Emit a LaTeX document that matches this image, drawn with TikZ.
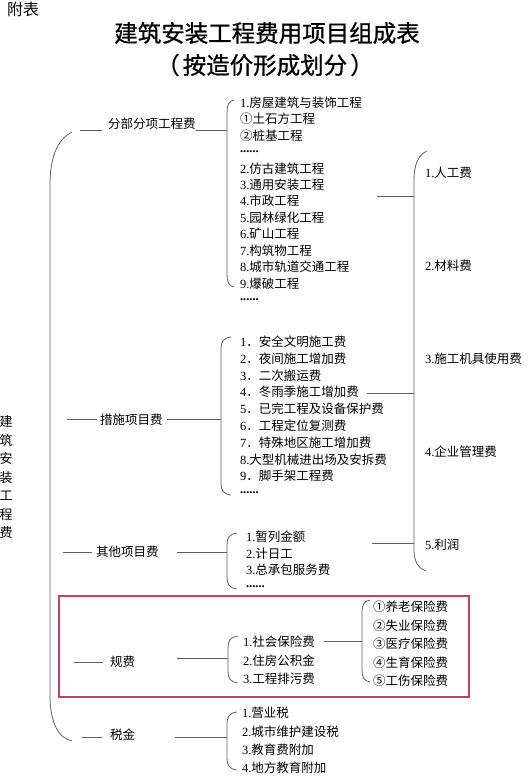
\documentclass[tikz,border=0pt]{standalone}
\usepackage{fontspec}
\setmainfont{Noto Sans CJK SC}
\newfontfamily\titlefont[FakeBold=0.8]{Noto Sans CJK SC}
\newfontfamily\dg{Liberation Serif}
\newcommand\dnum[1]{{\dg #1}}
\newcommand\sixdots{{\dg\bfseries ......}}
\definecolor{redbox}{RGB}{200,62,92}
\definecolor{linegray}{RGB}{95,95,95}
\newcommand\mybrace[5]{% name, x, top, bottom, curl
  \coordinate (#1) at (#2,#3/2+#4/2);
  \draw[br] (#2+#5,#3) .. controls (#2+2,#3+1) and (#2,#3+5) .. (#2,#3+12) -- (#2,#4-12) .. controls (#2,#4-5) and (#2+2,#4-1) .. (#2+#5,#4);}
\tikzset{
  every node/.style={inner sep=0pt, outer sep=0pt},
  item/.style={anchor=west, font=\fontsize{12.5}{14}\selectfont},
  cat/.style={anchor=west, font=\fontsize{12.5}{14}\selectfont},
  ln/.style={draw=linegray, line width=0.8pt},
  br/.style={draw=linegray, line width=0.8pt},
}
\begin{document}
\begin{tikzpicture}[x=1pt,y=-1pt]
\useasboundingbox (0,0) rectangle (530,780);
% headings
\node[anchor=west, font=\fontsize{16}{18}\selectfont] (fubiao) at (7,9) {附表};
\node[font=\titlefont\fontsize{23.5}{26}\selectfont] (title) at (267,33) {建筑安装工程费用项目组成表};
\node[font=\titlefont\fontsize{23.5}{26}\selectfont] (subtitle) at (265,65) {（\hspace{3pt}按造价形成划分\hspace{3pt}）};
% vertical label
\foreach \c [count=\i from 0] in {建,筑,安,装,工,程,费}
  \node[font=\fontsize{13}{14}\selectfont] (v\i) at (6,422+18.5*\i) {\c};
% main brace
\draw[br] (72,132) .. controls (56,140) and (50,160) .. (50,185) -- (50,695) .. controls (50,722) and (58,738) .. (72,741);
% categories
\node[cat] (c1) at (108,124) {分部分项工程费};
\node[cat] (c2) at (100,420) {措施项目费};
\node[cat] (c3) at (96,552) {其他项目费};
\node[cat] (c4) at (110,662) {规费};
\node[cat] (c5) at (110,735) {税金};
% braces
\mybrace{b1}{227}{100}{287}{7}
\mybrace{b2}{221}{337}{495}{10}
\mybrace{b3}{227}{533}{589}{10}
\mybrace{b4}{228}{636}{683}{10}
\mybrace{b5}{227}{712}{770}{10}
\mybrace{b6}{362}{600}{682}{8}
% right brace
\coordinate (rb) at (414,360);
\draw[br] (427,151) .. controls (418,155) and (414,165) .. (414,180) -- (414,550) .. controls (414,562) and (419,569) .. (426,571);
% lines before categories
\coordinate (p1) at (80,130); \coordinate (p2) at (67,419); \coordinate (p3) at (63,552);
\coordinate (p4) at (74,662); \coordinate (p5) at (82,737);
\draw[ln] (p1) -- (102,130);
\draw[ln] (p2) -- (97,419);
\draw[ln] (p3) -- (92,552);
\draw[ln] (p4) -- (103,662);
\draw[ln] (p5) -- (102,737);
% lines after categories to braces
\draw[ln] (c1.east |- 0,130) -- (b1 |- 0,130);
\draw[ln] (167,419) -- (b2 |- 0,419);
\draw[ln] (177,552) -- (b3 |- 0,552);
\draw[ln] (177,658) -- (b4 |- 0,658);
\draw[ln] (175,737) -- (b5 |- 0,737);
% list 1
\foreach \t [count=\i from 0] in {\dnum{1.}房屋建筑与装饰工程,①土石方工程,②桩基工程,\sixdots,\dnum{2.}仿古建筑工程,\dnum{3.}通用安装工程,\dnum{4.}市政工程,\dnum{5.}园林绿化工程,\dnum{6.}矿山工程,\dnum{7.}构筑物工程,\dnum{8.}城市轨道交通工程,\dnum{9.}爆破工程,\sixdots}
  \node[item] (a\i) at (240,102.5+16.45*\i) {\t};
% list 2
\foreach \t [count=\i from 0] in {\dnum{1}．安全文明施工费,\dnum{2}．夜间施工增加费,\dnum{3}．二次搬运费,\dnum{4}．冬雨季施工增加费,\dnum{5}．已完工程及设备保护费,\dnum{6}．工程定位复测费,\dnum{7}．特殊地区施工增加费,\dnum{8.}大型机械进出场及安拆费,\dnum{9}．脚手架工程费,\sixdots}
  \node[item] (m\i) at (240,342+16.75*\i) {\t};
% list 3
\foreach \t [count=\i from 0] in {\dnum{1.}暂列金额,\dnum{2.}计日工,\dnum{3.}总承包服务费,\sixdots}
  \node[item] (o\i) at (246,537+16.5*\i) {\t};
% list 4
\foreach \t [count=\i from 0] in {\dnum{1.}社会保险费,\dnum{2.}住房公积金,\dnum{3.}工程排污费}
  \node[item] (g\i) at (243,642+18.5*\i) {\t};
% list 5
\foreach \t [count=\i from 0] in {\dnum{1.}营业税,\dnum{2.}城市维护建设税,\dnum{3.}教育费附加,\dnum{4.}地方教育附加}
  \node[item] (s\i) at (242,713+18.3*\i) {\t};
% list 6
\foreach \t [count=\i from 0] in {①养老保险费,②失业保险费,③医疗保险费,④生育保险费,⑤工伤保险费}
  \node[item] (i\i) at (373,607+18.5*\i) {\t};
% right list
\foreach \t [count=\i from 0] in {\dnum{1.}人工费,\dnum{2.}材料费,\dnum{3.}施工机具使用费,\dnum{4.}企业管理费,\dnum{5.}利润}
  \node[item] (r\i) at (425,173+93*\i) {\t};
% lines to right brace
\coordinate (q1) at (377,196); \coordinate (q2) at (367,393); \coordinate (q3) at (372,543);
\draw[ln] (q1) -- (rb |- q1);
\draw[ln] (q2) -- (rb |- q2);
\draw[ln] (q3) -- (rb |- q3);
% social insurance to sub-brace
\draw[ln] (324,641) -- (b6 |- 0,641);
% red box
\draw[draw=redbox, line width=2.5pt] (59,596) rectangle (469,697);
\end{tikzpicture}
\end{document}
